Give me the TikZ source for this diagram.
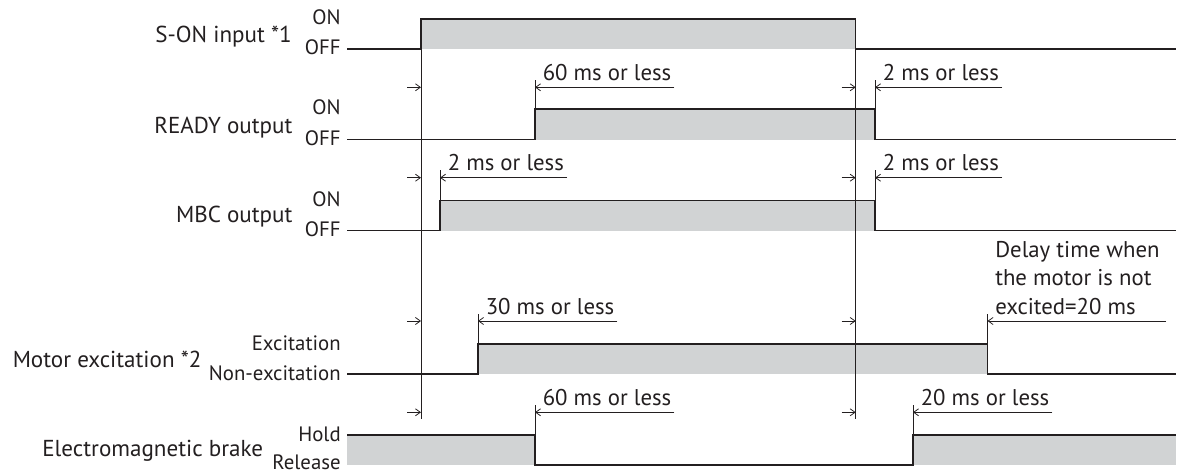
\documentclass[tikz,border=0pt]{standalone}
\usepackage{fontspec}
\setmainfont{PT Sans}
\usetikzlibrary{arrows.meta}
\definecolor{inkc}{RGB}{35,31,32}
\definecolor{shadec}{RGB}{209,211,212}

\begin{document}
\begin{tikzpicture}[x=0.025cm, y=-0.025cm,
    wave/.style={draw=inkc, line width=0.85pt},
    hifill/.style={fill=shadec},
    refline/.style={draw=inkc, line width=0.55pt},
    dimline/.style={draw=inkc, line width=0.55pt, -{Straight Barb[length=3.5pt, width=5pt]}},
    siglbl/.style={anchor=base east, inner sep=0pt, text=inkc, font=\fontsize{16.4}{19}\selectfont},
    lvllbl/.style={anchor=base east, inner sep=0pt, text=inkc, font=\fontsize{14.8}{17}\selectfont},
    dimlbl/.style={inner xsep=2pt, inner ysep=0pt, align=left, text=inkc, font=\fontsize{16.2}{20.3}\selectfont}]

    \useasboundingbox (0,0) rectangle (1178,473);

    % Signal names and their levels
    \node[siglbl] (son) at (292,42.7) {S-ON input *1};
    \node[lvllbl] (sonon) at (341,25) {ON};
    \node[lvllbl] (sonoff) at (341,55) {OFF};
    \node[siglbl] (ready) at (292.7,133.3) {READY output};
    \node[lvllbl] (readyon) at (341,115) {ON};
    \node[lvllbl] (readyoff) at (341,145.5) {OFF};
    \node[siglbl] (mbc) at (292.7,222.7) {MBC output};
    \node[lvllbl] (mbcon) at (341,206.5) {ON};
    \node[lvllbl] (mbcoff) at (341,236.7) {OFF};
    \node[siglbl] (motor) at (201.7,367) {Motor excitation *2};
    \node[lvllbl] (motoron) at (341,350) {Excitation};
    \node[lvllbl] (motoroff) at (341,380) {Non-excitation};
    \node[siglbl] (brake) at (263.3,456.7) {Electromagnetic brake};
    \node[lvllbl] (brakeon) at (341,441) {Hold};
    \node[lvllbl] (brakeoff) at (341,469.3) {Release};

    % Shaded high states
    \fill[hifill] (421,19) rectangle (855.7,49);
    \fill[hifill] (535,109) rectangle (875,139.5);
    \fill[hifill] (440,200.5) rectangle (875,230.7);
    \fill[hifill] (478,344) rectangle (987.5,374);
    \fill[hifill] (347,435) rectangle (535,465);
    \fill[hifill] (913,435) rectangle (1176,465);

    % Waveforms
    \draw[wave] (347,49) -| (421,19) -| (855.7,49) -- (1176,49);
    \draw[wave] (347,139.5) -| (535,109) -| (875,139.5) -- (1176,139.5);
    \draw[wave] (347,230.7) -| (440,200.5) -| (875,230.7) -- (1176,230.7);
    \draw[wave] (347,374) -| (478,344) -| (987.5,374) -- (1176,374);
    \draw[wave] (347,435) -| (535,465) -| (913,435) -- (1176,435);

    % Reference lines at S-ON switching
    \draw[refline] (421,19) -- (421,419);
    \draw[refline] (855.7,19) -- (855.7,419);

    % Extension ticks of the edges
    \draw[refline] (535,109) -- (535,80);
    \draw[refline] (875,109) -- (875,80);
    \draw[refline] (440,200.5) -- (440,170);
    \draw[refline] (875,200.5) -- (875,170);
    \draw[refline] (478,344) -- (478,314);
    \draw[refline] (987.5,344) -- (987.5,313.5);
    \draw[refline] (535,435) -- (535,405);
    \draw[refline] (913,435) -- (913,405);

    % Ends of the delay dimensions
    \coordinate (readyup) at (535,87.3);
    \coordinate (readydown) at (875,87.3);
    \coordinate (mbcup) at (440,177.7);
    \coordinate (mbcdown) at (875,177.7);
    \coordinate (motorup) at (478,321);
    \coordinate (motordown) at (987.5,321);
    \coordinate (brakeup) at (535,412.3);
    \coordinate (brakedown) at (913,412.3);

    % Delay labels
    \node[dimlbl, anchor=base west] (readyuplbl) at (539.7,80.3) {60 ms or less};
    \node[dimlbl, anchor=base west] (readydownlbl) at (879.7,80.3) {2 ms or less};
    \node[dimlbl, anchor=base west] (mbcuplbl) at (444.7,170.7) {2 ms or less};
    \node[dimlbl, anchor=base west] (mbcdownlbl) at (879.7,170.7) {2 ms or less};
    \node[dimlbl, anchor=base west] (motoruplbl) at (482.7,314) {30 ms or less};
    \node[dimlbl, anchor=south west] (motordownlbl) at (992.2,315) {Delay time when\\the motor is not\\excited=20 ms};
    \node[dimlbl, anchor=base west] (brakeuplbl) at (539.7,405.3) {60 ms or less};
    \node[dimlbl, anchor=base west] (brakedownlbl) at (917.7,405.3) {20 ms or less};

    % Delay dimensions
    \draw[dimline] (407,87.3) -- (421,87.3);
    \draw[dimline] (readyuplbl.east |- readyup) -- (readyup);
    \draw[dimline] (841.7,87.3) -- (855.7,87.3);
    \draw[dimline] (readydownlbl.east |- readydown) -- (readydown);
    \draw[dimline] (407,177.7) -- (421,177.7);
    \draw[dimline] (mbcuplbl.east |- mbcup) -- (mbcup);
    \draw[dimline] (841.7,177.7) -- (855.7,177.7);
    \draw[dimline] (mbcdownlbl.east |- mbcdown) -- (mbcdown);
    \draw[dimline] (407,321) -- (421,321);
    \draw[dimline] (motoruplbl.east |- motorup) -- (motorup);
    \draw[dimline] (841.7,321) -- (855.7,321);
    \draw[dimline] (1166,321) -- (motordown);
    \draw[dimline] (407,412.3) -- (421,412.3);
    \draw[dimline] (brakeuplbl.east |- brakeup) -- (brakeup);
    \draw[dimline] (841.7,412.3) -- (855.7,412.3);
    \draw[dimline] (brakedownlbl.east |- brakedown) -- (brakedown);
\end{tikzpicture}
\end{document}
